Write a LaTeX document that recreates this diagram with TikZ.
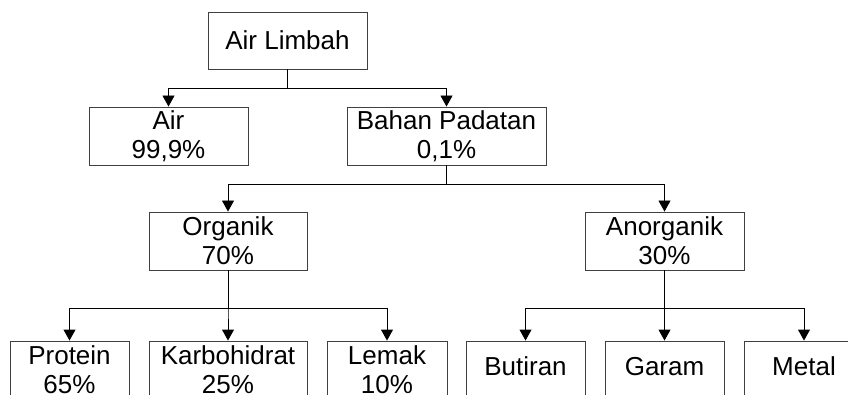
\documentclass[tikz,border=0pt]{standalone}
\usepackage{fontspec}
\setmainfont{Liberation Sans}
\usetikzlibrary{arrows.meta}

\begin{document}
\begin{tikzpicture}[x=1pt,y=-1pt]

      \useasboundingbox (0,0) rectangle (848,395);
      \clip (0,0) rectangle (848,395);

      \begin{scope}[every node/.style={rectangle,draw=black!75,line width=0.9pt,
          align=center,inner sep=0pt,minimum height=58pt,
          font=\fontsize{26}{29}\selectfont}]
        \node[minimum width=159pt,minimum height=57pt] (1) at (287.5,40.5) {Air Limbah};
        \node[minimum width=159pt] (2)  at (168.5,136) {Air\\99,9\%};
        \node[minimum width=199pt] (3)  at (446.5,136) {Bahan Padatan\\0,1\%};
        \node[minimum width=158pt] (4)  at (228,241)   {Organik\\70\%};
        \node[minimum width=159pt] (5)  at (664.5,241) {Anorganik\\30\%};
        \node[minimum width=119pt] (6)  at (69.5,370)  {Protein\\65\%};
        \node[minimum width=158pt] (7)  at (228,370)   {Karbohidrat\\25\%};
        \node[minimum width=120pt] (8)  at (387,370)   {Lemak\\10\%};
        \node[minimum width=119pt] (9)  at (525.5,370) {\strut Butiran};
        \node[minimum width=119pt] (10) at (664.5,370) {\strut Garam};
        \node[minimum width=119pt] (11) at (804,370)   {\strut Metal};
      \end{scope}

      \begin{scope}[line width=0.9pt,-{Triangle[length=11pt,width=12pt]}]
        \draw (1.south) -- ++(0,19) -| (2.north);
        \draw (1.south) -- ++(0,19) -| (3.north);
        \draw (3.south) -- ++(0,19) -| (4.north);
        \draw (3.south) -- ++(0,19) -| (5.north);
        \draw (4.south) -- ++(0,38) -| (6.north);
        \draw (4.south) -- ++(0,38) -| (7.north);
        \draw (4.south) -- ++(0,38) -| (8.north);
        \draw (5.south) -- ++(0,38) -| (9.north);
        \draw (5.south) -- ++(0,38) -| (10.north);
        \draw (5.south) -- ++(0,38) -| (11.north);
      \end{scope}

    \end{tikzpicture}
\end{document}
